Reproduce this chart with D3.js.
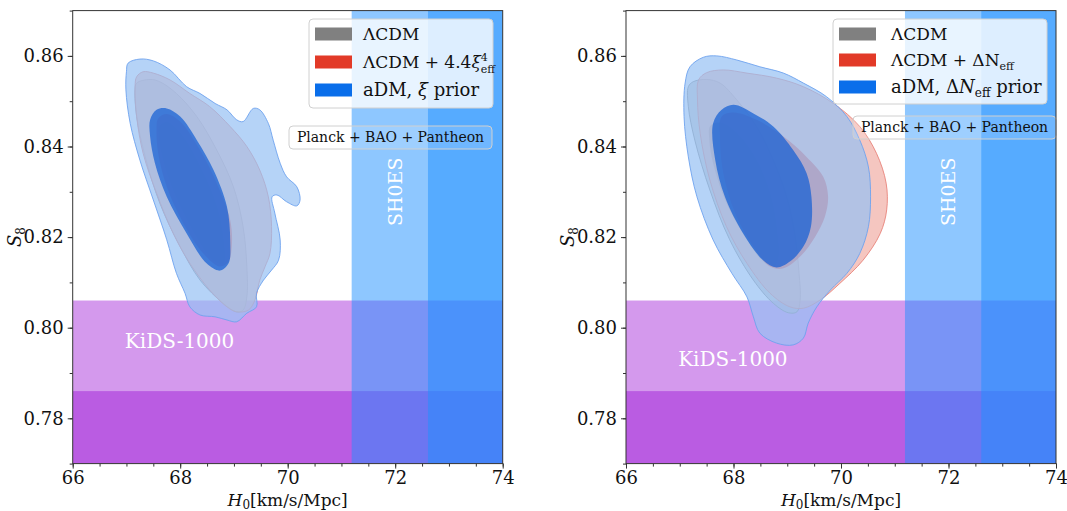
<!DOCTYPE html>
<html>
<head>
<meta charset="utf-8">
<script src="https://cdn.jsdelivr.net/npm/d3@7"></script>
<style>
  body { margin: 0; background: #fff; }
  svg { display: block; }
  text { font-family: "DejaVu Serif", serif; }
</style>
</head>
<body>
<svg id="fig" width="1067" height="511"></svg>
<script>
// axis ticks
const H0_TICKS = [66, 68, 70, 72, 74];
const S8_TICKS = [0.78, 0.80, 0.82, 0.84, 0.86];

// external priors
const SHOES_H0 = 74.03, SHOES_SIG = 1.42;
const KIDS_S8 = 0.766, KIDS_UP = 0.020;

// contours, [H0, S8] — left panel (xi prior)
const leftGrayOuter = [[67.19,0.8540],[67.44,0.8548],[67.62,0.8543],[67.93,0.8517],[68.31,0.8466],[68.68,0.8392],[68.99,0.8311],[69.17,0.8223],[69.24,0.8135],[69.24,0.8068],[69.17,0.8039],[69.05,0.8035],[68.80,0.8054],[68.37,0.8105],[68.00,0.8179],[67.62,0.8275],[67.35,0.8377],[67.19,0.8466],[67.16,0.8525]];
const leftGrayInner = [[67.62,0.8444],[67.75,0.8453],[68.00,0.8429],[68.37,0.8355],[68.68,0.8267],[68.80,0.8194],[68.80,0.8142],[68.62,0.8149],[68.31,0.8201],[67.93,0.8289],[67.69,0.8370],[67.61,0.8422]];
const leftRedOuter = [[67.19,0.8554],[67.31,0.8565],[67.50,0.8562],[67.81,0.8547],[68.18,0.8517],[68.55,0.8488],[68.93,0.8444],[69.24,0.8400],[69.48,0.8348],[69.64,0.8289],[69.70,0.8223],[69.67,0.8164],[69.58,0.8135],[69.48,0.8105],[69.39,0.8061],[69.27,0.8039],[69.05,0.8035],[68.87,0.8046],[68.55,0.8083],[68.18,0.8142],[67.87,0.8208],[67.56,0.8297],[67.31,0.8385],[67.19,0.8466],[67.16,0.8532]];
const leftRedInner = [[67.59,0.8462],[67.75,0.8472],[68.00,0.8455],[68.37,0.8392],[68.68,0.8319],[68.93,0.8238],[68.96,0.8179],[68.90,0.8146],[68.74,0.8135],[68.43,0.8164],[68.06,0.8230],[67.75,0.8311],[67.59,0.8385],[67.56,0.8436]];
const leftBlueOuter = [[67.03,0.8584],[67.25,0.8593],[67.50,0.8589],[67.81,0.8569],[68.12,0.8532],[68.37,0.8517],[68.65,0.8495],[68.87,0.8481],[69.05,0.8459],[69.17,0.8455],[69.36,0.8484],[69.48,0.8481],[69.64,0.8451],[69.73,0.8414],[69.86,0.8363],[69.98,0.8333],[70.17,0.8311],[70.23,0.8282],[70.17,0.8269],[69.98,0.8278],[69.80,0.8293],[69.71,0.8289],[69.76,0.8253],[69.86,0.8194],[69.83,0.8149],[69.70,0.8127],[69.55,0.8105],[69.42,0.8076],[69.42,0.8046],[69.24,0.8032],[69.05,0.8013],[68.87,0.8017],[68.65,0.8024],[68.37,0.8028],[68.18,0.8046],[68.09,0.8076],[67.93,0.8120],[67.75,0.8194],[67.50,0.8282],[67.25,0.8370],[67.07,0.8451],[66.99,0.8525],[67.00,0.8565]];
const leftBlueInner = [[67.44,0.8459],[67.56,0.8481],[67.75,0.8484],[68.00,0.8466],[68.31,0.8414],[68.62,0.8348],[68.87,0.8267],[68.93,0.8194],[68.90,0.8142],[68.74,0.8126],[68.49,0.8142],[68.12,0.8208],[67.75,0.8289],[67.53,0.8363],[67.44,0.8422]];

// contours — right panel (Neff prior)
const rightGrayOuter = [[67.16,0.8532],[67.25,0.8543],[67.50,0.8548],[67.75,0.8540],[68.06,0.8503],[68.43,0.8444],[68.74,0.8370],[68.99,0.8289],[69.14,0.8208],[69.22,0.8120],[69.24,0.8061],[69.18,0.8035],[69.02,0.8033],[68.74,0.8054],[68.37,0.8105],[67.93,0.8194],[67.56,0.8304],[67.28,0.8414],[67.16,0.8488]];
const rightGrayInner = [[67.56,0.8444],[67.69,0.8453],[67.87,0.8447],[68.18,0.8414],[68.49,0.8355],[68.71,0.8282],[68.81,0.8208],[68.83,0.8157],[68.74,0.8135],[68.55,0.8146],[68.25,0.8194],[67.87,0.8275],[67.62,0.8363],[67.55,0.8414]];
const rightRedOuter = [[67.35,0.8547],[67.50,0.8563],[67.81,0.8569],[68.25,0.8562],[68.80,0.8551],[69.30,0.8532],[69.86,0.8495],[70.35,0.8444],[70.66,0.8385],[70.84,0.8319],[70.85,0.8260],[70.73,0.8208],[70.41,0.8149],[69.98,0.8098],[69.61,0.8061],[69.30,0.8043],[69.05,0.8046],[68.68,0.8076],[68.25,0.8142],[67.87,0.8223],[67.56,0.8326],[67.38,0.8429],[67.33,0.8503]];
const rightRedInner = [[67.78,0.8466],[68.00,0.8475],[68.43,0.8459],[68.93,0.8422],[69.36,0.8377],[69.67,0.8333],[69.76,0.8289],[69.70,0.8245],[69.52,0.8201],[69.24,0.8157],[68.93,0.8131],[68.68,0.8135],[68.37,0.8179],[68.03,0.8253],[67.81,0.8341],[67.75,0.8414]];
const rightBlueOuter = [[67.10,0.8540],[67.19,0.8576],[67.44,0.8597],[67.69,0.8600],[68.06,0.8591],[68.49,0.8576],[68.93,0.8562],[69.30,0.8540],[69.73,0.8510],[70.11,0.8466],[70.35,0.8414],[70.51,0.8355],[70.55,0.8289],[70.51,0.8223],[70.35,0.8164],[70.11,0.8120],[69.80,0.8083],[69.55,0.8046],[69.39,0.8010],[69.30,0.7977],[69.11,0.7962],[68.80,0.7966],[68.49,0.7988],[68.37,0.8024],[68.25,0.8068],[67.97,0.8120],[67.62,0.8194],[67.32,0.8289],[67.16,0.8377],[67.08,0.8466]];
const rightBlueInner = [[67.62,0.8451],[67.78,0.8481],[68.00,0.8492],[68.37,0.8473],[68.74,0.8444],[69.11,0.8392],[69.36,0.8341],[69.45,0.8289],[69.44,0.8223],[69.30,0.8179],[69.05,0.8146],[68.80,0.8133],[68.55,0.8149],[68.18,0.8208],[67.84,0.8289],[67.66,0.8370]];

const svg = d3.select("#fig");
const W = 430, TOP = 10.6, BOTTOM = 463.6;

const panels = [
  {
    x0: 72.7,
    contours: { gray: [leftGrayOuter, leftGrayInner], red: [leftRedOuter, leftRedInner], blue: [leftBlueOuter, leftBlueInner] },
    kids: [66.97, 0.7955],
    legend: { x: 309, y: 19, w: 184, h: 89, rows: [34, 62, 90], patchX: 315, textX: 363 },
    planck: { x: 289, y: 126, w: 203, h: 23 },
    labels: "xi"
  },
  {
    x0: 626,
    contours: { gray: [rightGrayOuter, rightGrayInner], red: [rightRedOuter, rightRedInner], blue: [rightBlueOuter, rightBlueInner] },
    kids: [66.97, 0.7915],
    legend: { x: 833, y: 19, w: 214, h: 85, rows: [34, 60, 87], patchX: 839, textX: 891 },
    planck: { x: 853, y: 116, w: 203, h: 23 },
    labels: "neff"
  }
];

const styles = {
  gray: { outer: "rgb(190,190,190)", inner: "rgb(85,85,85)",   line: "#8c8c8c", legend: "#808080" },
  red:  { outer: "rgb(241,174,165)", inner: "rgb(225,70,66)",  line: "#e8837a", legend: "#e23a28" },
  blue: { outer: "rgb(149,192,244)", inner: "rgb(15,92,212)",  line: "#6ea3ee", legend: "#0a6eea" }
};

panels.forEach((p, pi) => {
  const x = d3.scaleLinear().domain([66, 74]).range([p.x0, p.x0 + W]);
  const y = d3.scaleLinear().domain([0.77, 0.87]).range([BOTTOM, TOP]);

  const clipId = "clip" + pi;
  svg.append("clipPath").attr("id", clipId)
    .append("rect").attr("x", p.x0).attr("y", TOP).attr("width", W).attr("height", BOTTOM - TOP);

  const g = svg.append("g").attr("clip-path", `url(#${clipId})`);

  // KiDS-1000 bands (2 sigma, 1 sigma)
  [KIDS_S8 + 2 * KIDS_UP, KIDS_S8 + KIDS_UP].forEach(top => {
    g.append("rect")
      .attr("x", x(66)).attr("width", x(74) - x(66))
      .attr("y", y(top)).attr("height", y(0.77) - y(top))
      .attr("fill", "rgb(148,0,211)").attr("fill-opacity", 0.4);
  });
  // SH0ES bands
  [SHOES_H0 - 2 * SHOES_SIG, SHOES_H0 - SHOES_SIG].forEach(lo => {
    g.append("rect")
      .attr("x", x(lo)).attr("width", x(74) - x(lo))
      .attr("y", y(0.87)).attr("height", y(0.77) - y(0.87))
      .attr("fill", "rgb(30,144,255)").attr("fill-opacity", 0.5);
  });

  const line = d3.line()
    .x(d => x(d[0])).y(d => y(d[1]))
    .curve(d3.curveCatmullRomClosed.alpha(0.5));

  ["gray", "red", "blue"].forEach(k => {
    const [outer, inner] = p.contours[k];
    g.append("path").attr("d", line(outer))
      .attr("fill", styles[k].outer).attr("fill-opacity", 0.7)
      .attr("stroke", styles[k].line).attr("stroke-width", 0.9);
    g.append("path").attr("d", line(inner))
      .attr("fill", styles[k].inner).attr("fill-opacity", 0.7);
  });

  // band labels
  g.append("text")
    .attr("x", x(p.kids[0])).attr("y", y(p.kids[1]))
    .attr("fill", "#fff").style("font-size", "20px")
    .text("KiDS-1000");
  g.append("text")
    .attr("transform", `translate(${x(72)},${y(0.83)}) rotate(-90)`)
    .attr("text-anchor", "middle").attr("dy", "0.35em")
    .attr("fill", "#fff").style("font-size", "19px")
    .text("SH0ES");

  // legend
  const L = p.legend;
  svg.append("rect")
    .attr("x", L.x).attr("y", L.y).attr("width", L.w).attr("height", L.h)
    .attr("rx", 4).attr("fill", "#fff").attr("fill-opacity", 0.8)
    .attr("stroke", "#d0d0d0").attr("stroke-width", 1);

  ["gray", "red", "blue"].forEach((k, i) => {
    svg.append("rect")
      .attr("x", L.patchX).attr("y", L.rows[i] - 6.5).attr("width", 37).attr("height", 13)
      .attr("fill", styles[k].legend);
  });

  const t0 = svg.append("text").attr("x", L.textX).attr("y", L.rows[0]).attr("dy", "0.35em")
    .style("font-size", "17px").attr("fill", "#111").text("ΛCDM");
  const t1 = svg.append("text").attr("x", L.textX).attr("y", L.rows[1]).attr("dy", "0.35em")
    .style("font-size", "17px").attr("fill", "#111");
  const t2 = svg.append("text").attr("x", L.textX).attr("y", L.rows[2]).attr("dy", "0.35em")
    .style("font-size", "18px").attr("fill", "#111");

  if (p.labels === "xi") {
    t1.append("tspan").text("ΛCDM + 4.4");
    t1.append("tspan").style("font-style", "italic").text("ξ");
    t1.append("tspan").attr("dy", -7).style("font-size", "11px").text("4");
    t1.append("tspan").attr("dx", -7).attr("dy", 12).style("font-size", "11px").text("eff");
    t2.append("tspan").text("aDM, ");
    t2.append("tspan").style("font-style", "italic").text("ξ");
    t2.append("tspan").text(" prior");
  } else {
    t1.append("tspan").text("ΛCDM + ΔN");
    t1.append("tspan").attr("dy", 4).style("font-size", "11px").text("eff");
    t2.append("tspan").text("aDM, Δ");
    t2.append("tspan").style("font-style", "italic").text("N");
    t2.append("tspan").attr("dy", 4).style("font-size", "12px").text("eff");
    t2.append("tspan").attr("dy", -4).text(" prior");
  }

  // dataset tag
  const P = p.planck;
  svg.append("rect")
    .attr("x", P.x).attr("y", P.y).attr("width", P.w).attr("height", P.h)
    .attr("rx", 4).attr("fill", "#fff").attr("fill-opacity", 0.15)
    .attr("stroke", "#d0d0d0").attr("stroke-width", 1);
  svg.append("text")
    .attr("x", P.x + P.w / 2).attr("y", P.y + P.h / 2).attr("dy", "0.35em")
    .attr("text-anchor", "middle").style("font-size", "14px").attr("fill", "#111")
    .text("Planck + BAO + Pantheon");

  // axes
  const xAxis = svg.append("g").attr("transform", `translate(0,${BOTTOM})`)
    .call(d3.axisBottom(x).tickValues(H0_TICKS).tickSize(5).tickPadding(3).tickFormat(d3.format("d")));
  svg.append("g").attr("transform", `translate(0,${BOTTOM})`)
    .call(d3.axisBottom(x).tickValues(d3.range(66, 74.01, 0.5)).tickSize(3).tickFormat(""));
  const yAxis = svg.append("g").attr("transform", `translate(${p.x0},0)`)
    .call(d3.axisLeft(y).tickValues(S8_TICKS).tickSize(5).tickPadding(4).tickFormat(d3.format(".2f")));
  svg.append("g").attr("transform", `translate(${p.x0},0)`)
    .call(d3.axisLeft(y).tickValues(d3.range(0.77, 0.8701, 0.01)).tickSize(3).tickFormat(""));

  svg.selectAll(".domain").remove();
  svg.selectAll(".tick line").attr("stroke", "#333");
  [xAxis, yAxis].forEach(a => a.selectAll("text")
    .style("font-family", "DejaVu Serif, serif").style("font-size", "18px").attr("fill", "#111"));

  svg.append("rect")
    .attr("x", p.x0).attr("y", TOP).attr("width", W).attr("height", BOTTOM - TOP)
    .attr("fill", "none").attr("stroke", "#333").attr("stroke-width", 1);

  // axis labels
  const xl = svg.append("text")
    .attr("x", p.x0 + W / 2).attr("y", 506).attr("text-anchor", "middle")
    .style("font-size", "17px").attr("fill", "#111");
  xl.append("tspan").style("font-style", "italic").text("H");
  xl.append("tspan").attr("dy", 3).style("font-size", "12px").text("0");
  xl.append("tspan").attr("dy", -3).text("[km/s/Mpc]");

  const yl = svg.append("text")
    .attr("transform", `translate(${p.x0 - 52},${y(0.82)}) rotate(-90)`)
    .attr("text-anchor", "middle").style("font-size", "18px").attr("fill", "#111");
  yl.append("tspan").style("font-style", "italic").text("S");
  yl.append("tspan").attr("dy", 4).style("font-size", "12px").text("8");
});
</script>
</body>
</html>
